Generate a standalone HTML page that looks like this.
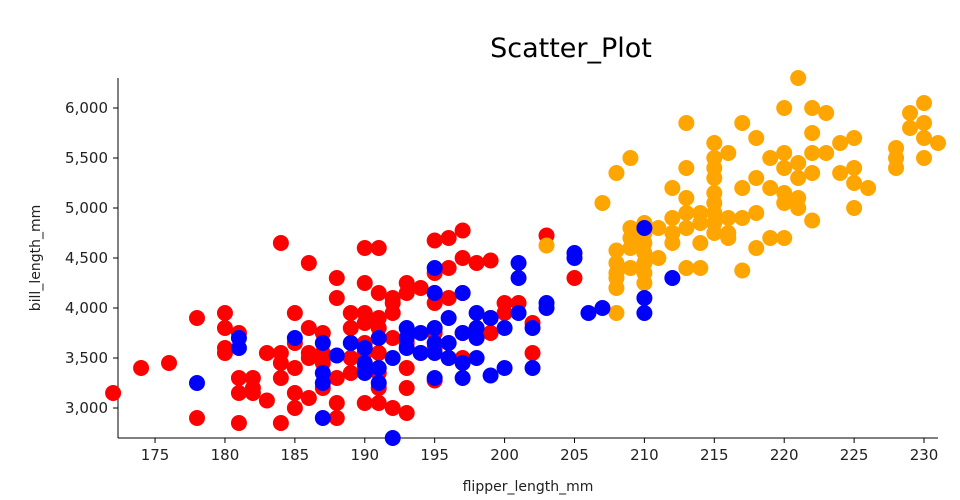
<!DOCTYPE html>
<html><head><meta charset="utf-8"><style>
body{margin:0;background:#fff;}
svg{display:block;font-family:"DejaVu Sans","Liberation Sans",sans-serif;}
</style></head><body>
<svg id="chart" width="960" height="500">
<text x="571" y="57" text-anchor="middle" font-size="27" fill="#000">Scatter_Plot</text>
<text x="528" y="491" text-anchor="middle" font-size="14" fill="#222">flipper_length_mm</text>
<text x="40" y="258" text-anchor="middle" font-size="14" fill="#222" transform="rotate(-90 40 258)">bill_length_mm</text>
<g id="axes"></g>
<g id="marks"></g>
</svg>
<script>
const xTicks=[175,180,185,190,195,200,205,210,215,220,225,230];
const yTicks=[3000,3500,4000,4500,5000,5500,6000];
const redX=[172,174,176,178,178,180,180,180,180,181,181,181,181,182,182,182,183,183,184,184,184,184,184,185,185,185,185,185,186,186,186,186,186,187,187,187,187,188,188,188,188,188,189,189,189,189,190,190,190,190,190,190,190,190,191,191,191,191,191,191,191,191,192,192,192,192,192,193,193,193,193,193,193,194,194,195,195,195,195,195,195,195,196,196,196,196,197,197,197,197,197,198,198,199,199,199,200,200,201,202,202,203,205];
const redY=[3150,3400,3450,3900,2900,3950,3800,3600,3550,3750,3300,3150,2850,3300,3200,3150,3550,3075,4650,3550,3450,3300,2850,3950,3650,3400,3150,3000,4450,3800,3550,3500,3100,3750,3550,3450,3200,4300,4100,3300,3050,2900,3950,3800,3500,3350,4600,4250,3950,3850,3650,3550,3400,3050,4600,4150,3900,3800,3550,3350,3200,3050,4100,4050,3950,3700,3000,4250,4150,3650,3400,3200,2950,4200,3550,4675,4350,4150,4050,3750,3600,3275,4700,4400,4100,3500,4775,4500,4150,3750,3500,4450,3800,4475,3900,3750,4050,3950,4050,3850,3550,4725,4300];
const blueX=[178,181,181,185,187,187,187,187,188,189,190,190,190,191,191,191,192,192,193,193,193,194,194,195,195,195,195,195,195,196,196,196,197,197,197,197,198,198,198,198,199,199,200,200,201,201,201,202,202,203,203,205,205,206,207,210,210,210,212];
const blueY=[3250,3700,3600,3700,3650,3350,3250,2900,3525,3650,3600,3450,3350,3700,3400,3250,2700,3500,3800,3700,3600,3750,3550,4400,4150,3800,3650,3550,3300,3900,3650,3500,4150,3750,3450,3300,3950,3800,3700,3500,3900,3325,3800,3400,4450,4300,3950,3800,3400,4050,4000,4550,4500,3950,4000,4800,4100,3950,4300];
const orangeX=[203,207,208,208,208,208,208,208,208,209,209,209,209,209,210,210,210,210,210,210,210,211,211,212,212,212,212,213,213,213,213,213,213,214,214,214,214,215,215,215,215,215,215,215,215,215,216,216,216,216,217,217,217,217,218,218,218,218,219,219,219,220,220,220,220,220,220,221,221,221,221,221,222,222,222,222,222,223,223,224,224,225,225,225,225,226,228,228,228,229,229,230,230,230,230,231];
const orangeY=[4625,5050,5350,4575,4450,4350,4300,4200,3950,5500,4800,4700,4600,4400,4850,4750,4650,4550,4450,4350,4250,4800,4500,5200,4900,4750,4650,5850,5400,5100,4950,4800,4400,4950,4850,4650,4400,5650,5500,5400,5300,5150,5050,4950,4850,4750,5550,4900,4750,4700,5850,5200,4900,4375,5700,5300,4950,4600,5500,5200,4700,6000,5550,5400,5150,5050,4700,6300,5450,5300,5100,5000,6000,5750,5550,5350,4875,5950,5550,5650,5350,5700,5400,5250,5000,5200,5600,5500,5400,5950,5800,6050,5850,5700,5500,5650];
const NS='http://www.w3.org/2000/svg';
const X0=172.35,X1=231,PX0=118,PX1=938;
const Y0=2700,Y1=6300,PY0=438,PY1=78;
function sx(v){return PX0+(v-X0)/(X1-X0)*(PX1-PX0);}
function sy(v){return PY0+(v-Y0)/(Y1-Y0)*(PY1-PY0);}
function mk(t,a,p){const e=document.createElementNS(NS,t);for(const k in a)e.setAttribute(k,a[k]);p.appendChild(e);return e;}
const axes=document.getElementById('axes');
let l=mk('line',{x1:PX0,y1:PY0,x2:PX1,y2:PY0,stroke:'#000','stroke-width':1},axes);


l=mk('line',{x1:PX0,y1:PY0,x2:PX0,y2:PY1,stroke:'#000','stroke-width':1},axes);


xTicks.forEach(v=>{
 const x=sx(v);
 mk('line',{x1:x,y1:PY0,x2:x,y2:PY0+5,stroke:'#000'},axes);
 const t=mk('text',{x:x,y:460,'text-anchor':'middle','font-size':15,fill:'#222'},axes);
 t.textContent=v;
 
 
});
yTicks.forEach(v=>{
 const y=sy(v);
 mk('line',{x1:PX0-5,y1:y,x2:PX0,y2:y,stroke:'#000'},axes);
 const t=mk('text',{x:108,y:y+5,'text-anchor':'end','font-size':15,fill:'#222'},axes);
 t.textContent=v.toLocaleString('en-US');
 
 
});
const marks=document.getElementById('marks');
function series(xs,ys,col,name){
 xs.forEach((v,i)=>{
  const c=mk('circle',{cx:sx(v),cy:sy(ys[i]),r:8,fill:col},marks);
  
  
 });
}
series(redX,redY,'#ff0000','point-red');
series(orangeX,orangeY,'#ffa500','point-orange');
series(blueX,blueY,'#0000ff','point-blue');
</script>
</body></html>
